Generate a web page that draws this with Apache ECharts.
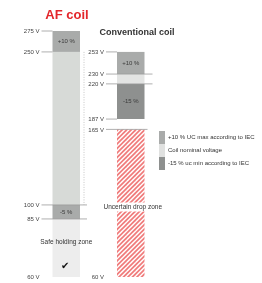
<!DOCTYPE html>
<html>
<head>
<meta charset="utf-8">
<script src="https://cdn.jsdelivr.net/npm/echarts@6/dist/echarts.min.js"></script>
<style>
html, body { margin: 0; padding: 0; background: #fff; }
#chart { width: 262px; height: 283px; }
</style>
</head>
<body>
<div id="chart"></div>
<script>
// data
const columns = ['AF coil', 'Conventional coil'];
const afVolts = [275, 250, 100, 85, 60];
const convVolts = [253, 230, 220, 187, 165, 60];
// [top V, bottom V, kind, label]
const afBands = [
    [275, 250, 'upper', '+10 %'],
    [250, 100, 'nominal', ''],
    [100, 85, 'upper', '-5 %'],
    [85, 60, 'safe', '']
];
const convBands = [
    [253, 230, 'upper', '+10 %'],
    [230, 220, 'nominal', ''],
    [220, 187, 'lower', '-15 %'],
    [165, 60, 'uncertain', '']
];
const legendKinds = ['upper', 'nominal', 'lower'];
const legendNames = ['+10 % UC max according to IEC', 'Coil nominal voltage', '-15 % uc min according to IEC'];
const zoneNames = { safe: 'Safe holding zone', uncertain: 'Uncertain drop zone' };

// the drawing is schematic, not to scale: each voltage sits on a level (0 top .. 100 bottom)
const afLevel = { 275: 0, 250: 8.5, 100: 70.7, 85: 76.4, 60: 100 };
const convLevel = { 253: 8.5, 230: 17.5, 220: 21.5, 187: 35.8, 165: 40, 60: 100 };
const tickExt = [{ 100: 7, 85: 7 }, { 230: 8, 220: 8, 165: 3 }];
const noTickLine = [60];

const COL_W = 27.5;
const FONT = '"Liberation Sans", Arial, sans-serif';
const colors = {
    upper: '#a9abaa',
    nominal: ['#d7dad7', '#e3e4e3'],
    lower: '#8e908f',
    safe: '#ededed'
};

const levelOf = (col, v) => (col ? convLevel : afLevel)[v];

// red hatch for the uncertain zone
const hatch = (() => {
    const c = document.createElement('canvas');
    c.width = 9; c.height = 9;
    const ctx = c.getContext('2d');
    ctx.fillStyle = '#fff';
    ctx.fillRect(0, 0, 9, 9);
    ctx.strokeStyle = '#f07b7b';
    ctx.lineWidth = 1.7;
    [-9, -4.5, 0, 4.5, 9].forEach(k => {
        ctx.beginPath();
        ctx.moveTo(k - 1, 10);
        ctx.lineTo(k + 10, -1);
        ctx.stroke();
    });
    return c;
})();

const bands = [];
afBands.forEach(b => bands.push({ col: 0, top: b[0], bottom: b[1], kind: b[2], label: b[3] }));
convBands.forEach(b => bands.push({ col: 1, top: b[0], bottom: b[1], kind: b[2], label: b[3] }));

const fillOf = (kind, col) => {
    if (kind === 'uncertain') return { image: hatch, repeat: 'repeat' };
    const c = colors[kind];
    return Array.isArray(c) ? c[col] : c;
};

const textStyle = (text, x, y, size, fill, align) => ({
    text, x, y,
    font: `${size}px ${FONT}`,
    fill: fill || '#444',
    align: align || 'center', textAlign: align || 'center',
    verticalAlign: 'middle', textVerticalAlign: 'middle'
});

const bandSeries = ['upper', 'nominal', 'lower', 'safe', 'uncertain'].map(kind => {
    const rows = bands.filter(b => b.kind === kind);
    const li = legendKinds.indexOf(kind);
    return {
        type: 'custom',
        name: li >= 0 ? legendNames[li] : zoneNames[kind],
        itemStyle: { color: kind === 'nominal' ? '#e0e1e0' : (kind === 'uncertain' ? '#f07b7b' : colors[kind]) },
        data: rows.map(b => [b.col, levelOf(b.col, b.top), levelOf(b.col, b.bottom)]),
        renderItem: (params, api) => {
            const b = rows[params.dataIndex];
            const p0 = api.coord([api.value(0), api.value(1)]);
            const p1 = api.coord([api.value(0), api.value(2)]);
            const x = p0[0] - COL_W / 2;
            const h = p1[1] - p0[1];
            const children = [{
                type: 'rect',
                shape: { x, y: p0[1], width: COL_W, height: h },
                style: { fill: fillOf(kind, b.col) }
            }];
            if (b.label) {
                children.push({ type: 'text', style: textStyle(b.label, p0[0], p0[1] + h / 2, 6, '#3a3a3a') });
            }
            if (kind === 'nominal' && b.col === 0) {
                // dotted guide on the right of the AF nominal range
                children.push({
                    type: 'line',
                    shape: { x1: x + COL_W + 4, y1: p0[1], x2: x + COL_W + 4, y2: p1[1] },
                    style: { stroke: '#b8b8b8', lineWidth: 0.8, lineDash: [1, 1.5] }
                });
            }
            if (kind === 'safe') {
                children.push({ type: 'text', style: textStyle(zoneNames.safe, p0[0], p0[1] + h * 0.4, 6.5, '#333') });
                children.push({
                    type: 'text',
                    style: textStyle('\u2714', p0[0] - 1, p0[1] + h * 0.81, 10, '#111')
                });
            }
            if (kind === 'uncertain') {
                const t = textStyle(zoneNames.uncertain, p0[0] + 2, p0[1] + h * 0.525, 6.5, '#333');
                t.backgroundColor = '#fff';
                t.padding = [1, 1];
                children.push({ type: 'text', style: t });
            }
            return { type: 'group', children };
        }
    };
});

const tickRows = afVolts.map(v => [0, levelOf(0, v), v]).concat(convVolts.map(v => [1, levelOf(1, v), v]));

const tickSeries = {
    type: 'custom',
    name: 'ticks',
    data: tickRows,
    z: 5,
    renderItem: (params, api) => {
        const col = api.value(0);
        const v = api.value(2);
        const p = api.coord([col, api.value(1)]);
        const left = p[0] - COL_W / 2;
        const ext = tickExt[col][v];
        const children = [{ type: 'text', style: textStyle(v + ' V', left - 13, p[1] + 0.5, 6, '#444', 'right') }];
        if (noTickLine.indexOf(v) < 0) {
            const x2 = ext != null ? left + COL_W + ext : left;
            children.push({
                type: 'line',
                shape: { x1: left - 11, y1: p[1], x2, y2: p[1] },
                style: { stroke: '#9a9a9a', lineWidth: 0.8 }
            });
        }
        return { type: 'group', children };
    }
};

const chart = echarts.init(document.getElementById('chart'), null, { renderer: 'canvas' });
chart.setOption({
    animation: false,
    graphic: [
        { type: 'text', style: textStyle(columns[0], 67, 15, 13, '#e3262b') , z: 10},
        { type: 'text', style: textStyle(columns[1], 137, 33, 9, '#333'), z: 10 }
    ].map(g => { g.style.font = 'bold ' + g.style.font; return g; }),
    legend: {
        data: legendNames,
        orient: 'vertical',
        left: 159,
        top: 131,
        padding: 0,
        itemGap: 0,
        itemWidth: 6,
        itemHeight: 13,
        icon: 'rect',
        selectedMode: false,
        textStyle: { fontSize: 6, color: '#333', fontFamily: FONT, padding: [0, 0, 0, -2] }
    },
    grid: { left: 34, right: 99, top: 31, bottom: 6 },
    xAxis: { type: 'category', data: columns, show: false },
    yAxis: { type: 'value', min: 0, max: 100, inverse: true, show: false },
    series: bandSeries.concat([tickSeries])
});
</script>
</body>
</html>
